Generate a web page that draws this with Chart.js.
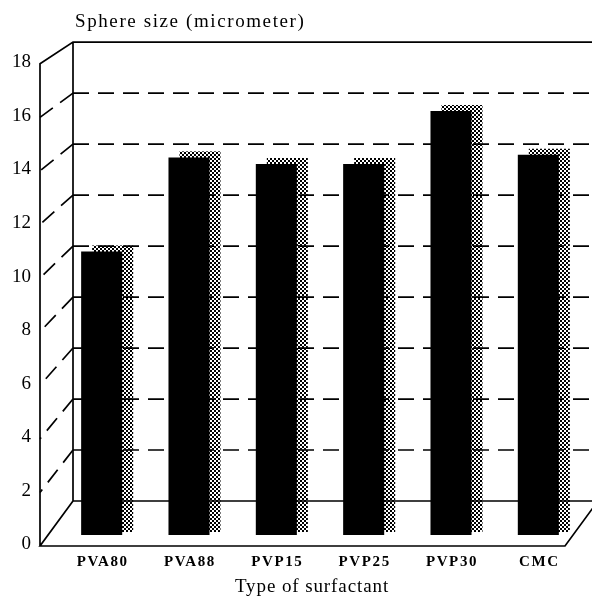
<!DOCTYPE html>
<html>
<head>
<meta charset="utf-8">
<script src="https://cdn.jsdelivr.net/npm/chart.js@4.4.1/dist/chart.umd.min.js"></script>
<style>
  html, body { margin: 0; padding: 0; background: #fff; }
</style>
</head>
<body>
<canvas id="chart" width="592" height="597"></canvas>
<script>
const categories = ['PVA80', 'PVA88', 'PVP15', 'PVP25', 'PVP30', 'CMC'];
const sphereSize = [10.7, 14.25, 14.0, 14.0, 16.0, 14.35];
const yTicks = [0, 2, 4, 6, 8, 10, 12, 14, 16, 18];
const yTitle = 'Sphere size (micrometer)';
const xTitle = 'Type of surfactant';

// dither used for the bar "side" shadow
function ditherPattern(ctx) {
  const p = document.createElement('canvas');
  p.width = 4; p.height = 4;
  const pc = p.getContext('2d');
  pc.fillStyle = '#000';
  pc.fillRect(0, 0, 2, 2);
  pc.fillRect(2, 2, 2, 2);
  return ctx.createPattern(p, 'repeat');
}

// pseudo 3D box: front plane, bar plane (chart scale), back wall
function box(chart) {
  const y = chart.scales.y;
  const area = chart.chartArea;
  const y0 = y.getPixelForValue(0);
  const h = v => y0 - y.getPixelForValue(v);
  return {
    frontX: area.left - 18,
    backX: area.left + 15,
    floorRight: area.right - 17,
    front: v => y0 + 11 - h(v) * 1.011,
    back: v => y0 - 34 - h(v) * 0.962
  };
}

const boxPlugin = {
  id: 'box3d',
  beforeDatasetsDraw(chart) {
    const ctx = chart.ctx;
    const b = box(chart);
    const meta = chart.getDatasetMeta(0);
    const W = chart.width + 20;

    // shadows behind bars
    ctx.save();
    ctx.fillStyle = ditherPattern(ctx);
    meta.data.forEach(bar => {
      const w = bar.width;
      ctx.fillRect(bar.x - w / 2 + 11, bar.y - 6, w, bar.base - 3 - (bar.y - 6));
    });
    ctx.restore();

    ctx.save();
    ctx.strokeStyle = '#000';
    ctx.lineWidth = 1.7;

    // dashed grid on back wall plus dashed connectors to front axis
    ctx.setLineDash([16, 9]);
    yTicks.slice(1, -1).forEach(v => {
      ctx.beginPath();
      ctx.moveTo(b.backX, b.back(v));
      ctx.lineTo(W, b.back(v));
      ctx.stroke();
      ctx.beginPath();
      ctx.moveTo(b.backX, b.back(v));
      ctx.lineTo(b.frontX, b.front(v));
      ctx.stroke();
    });

    // solid frame
    ctx.setLineDash([]);
    const top = yTicks[yTicks.length - 1];
    ctx.beginPath();
    ctx.moveTo(b.frontX, b.front(0));
    ctx.lineTo(b.frontX, b.front(top));
    ctx.lineTo(b.backX, b.back(top));
    ctx.lineTo(W, b.back(top));
    ctx.moveTo(b.backX, b.back(top));
    ctx.lineTo(b.backX, b.back(0));
    ctx.lineTo(W, b.back(0));
    ctx.moveTo(b.backX, b.back(0));
    ctx.lineTo(b.frontX, b.front(0));
    ctx.lineTo(b.floorRight, b.front(0));
    ctx.lineTo(b.floorRight + 33, b.front(0) - 45);
    ctx.stroke();
    ctx.restore();
  },
  afterDraw(chart) {
    const ctx = chart.ctx;
    const b = box(chart);
    const x = chart.scales.x;
    const area = chart.chartArea;
    ctx.save();
    ctx.fillStyle = '#000';

    // y tick labels
    ctx.font = '19px "Liberation Serif"';
    ctx.textAlign = 'right';
    ctx.textBaseline = 'middle';
    yTicks.forEach(v => ctx.fillText(String(v), b.frontX - 9, b.front(v) - 1.5));

    // category labels
    ctx.font = 'bold 15px "Liberation Serif"';
    ctx.letterSpacing = '1.6px';
    ctx.textAlign = 'center';
    categories.forEach((c, i) => ctx.fillText(c, x.getPixelForValue(i) + 1, 562));

    // titles
    ctx.font = '19px "Liberation Serif"';
    ctx.letterSpacing = '0.9px';
    ctx.fillText(xTitle, (area.left + area.right) / 2 - 8, 587);
    ctx.letterSpacing = '1.6px';
    ctx.textAlign = 'left';
    ctx.fillText(yTitle, b.backX + 2, 22);
    ctx.restore();
  }
};

new Chart(document.getElementById('chart'), {
  type: 'bar',
  data: {
    labels: categories,
    datasets: [{
      data: sphereSize,
      backgroundColor: '#000',
      borderWidth: 0,
      barPercentage: 0.47,
      categoryPercentage: 1
    }]
  },
  options: {
    responsive: false,
    animation: false,
    layout: { padding: { left: 58, right: 10, top: 58, bottom: 62 } },
    scales: {
      x: { display: false, offset: true },
      y: { display: false, min: 0, max: 18 }
    },
    plugins: {
      legend: { display: false },
      tooltip: { enabled: false }
    }
  },
  plugins: [boxPlugin]
});
</script>
</body>
</html>
